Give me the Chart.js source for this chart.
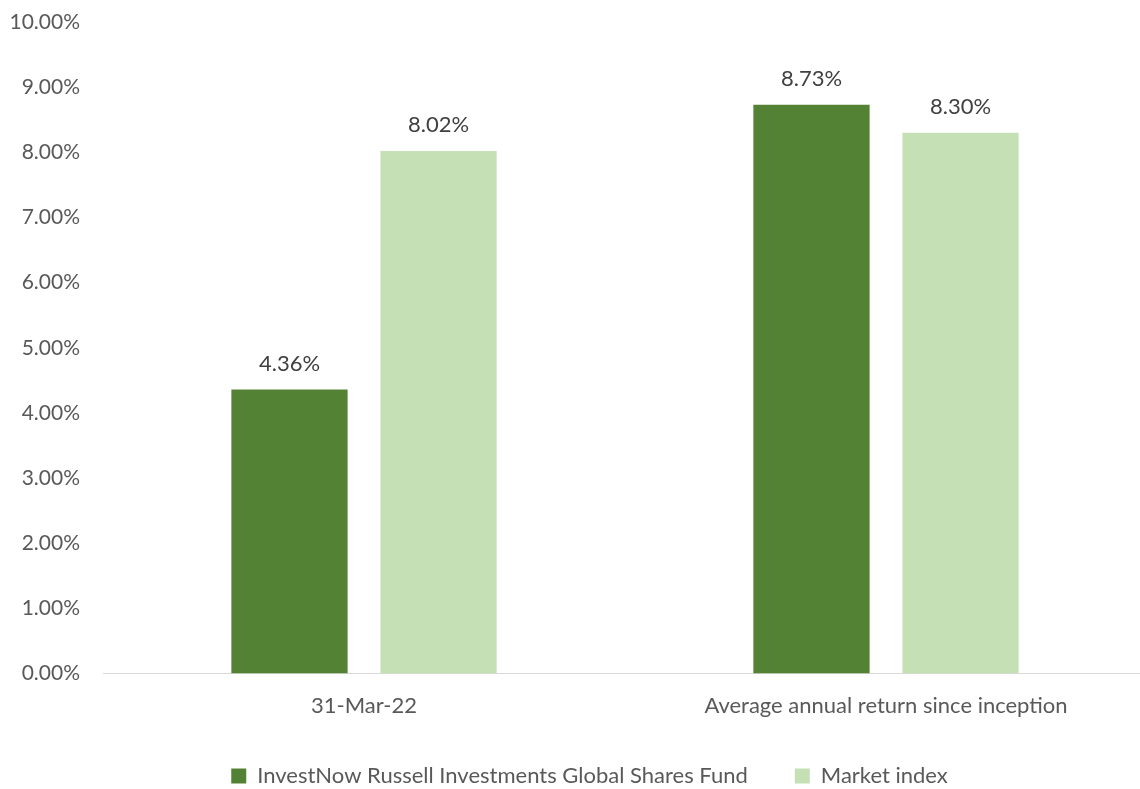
<!DOCTYPE html>
<html>
<head>
<meta charset="utf-8">
<script src="https://cdn.jsdelivr.net/npm/chart.js@4/dist/chart.umd.min.js"></script>
<style>
  html, body { margin: 0; padding: 0; background: #fff; overflow: hidden; }
  #wrap { width: 1147px; height: 789px; position: relative; }
</style>
</head>
<body>
<div id="wrap"><canvas id="myChart"></canvas></div>
<script>
// data
var categories = ['31-Mar-22', 'Average annual return since inception'];
var fundValues = [4.36, 8.73];
var indexValues = [8.02, 8.30];
var seriesNames = ['InvestNow Russell Investments Global Shares Fund', 'Market index'];
var yTicks = [0, 1, 2, 3, 4, 5, 6, 7, 8, 9, 10];

var FONT = 'Lato';

// draws the value above each bar (no datalabels plugin offline)
var valueLabels = {
    id: 'valueLabels',
    afterDatasetsDraw: function(chart){
        var ctx = chart.ctx;
        ctx.save();
        ctx.font = '22px ' + FONT;
        ctx.fillStyle = '#404040';
        ctx.textAlign = 'center';
        ctx.textBaseline = 'middle';
        chart.data.datasets.forEach(function(ds, i){
            chart.getDatasetMeta(i).data.forEach(function(bar, j){
                ctx.fillText(ds.data[j].toFixed(2) + '%', bar.x, bar.y - 26);
            });
        });
        ctx.restore();
    }
};

// legend: wide gap between items but a shorter box, drawn a bit shifted
var legendFix = {
    id: 'legendFix',
    beforeLayout: function(chart){
        var lg = chart.legend;
        if (!lg || lg._fixed) return;
        var fit = lg.fit;
        var draw = lg.draw;
        lg.fit = function(){ fit.call(this); this.height = 51; };
        lg.draw = function(){
            var top = this.top;
            this.top = top - 20;
            this.ctx.save();
            this.ctx.translate(16, 0);
            draw.call(this);
            this.ctx.restore();
            this.top = top;
        };
        lg._fixed = true;
    }
};

var ctx = document.getElementById('myChart').getContext('2d');
var myChart = new Chart(ctx, {
    type: 'bar',
    data: {
        labels: categories,
        datasets: [{
            label: seriesNames[0],
            data: fundValues,
            backgroundColor: '#548235',
            categoryPercentage: 0.571,
            barPercentage: 0.78
        }, {
            label: seriesNames[1],
            data: indexValues,
            backgroundColor: '#C5E0B4',
            categoryPercentage: 0.571,
            barPercentage: 0.78
        }]
    },
    options: {
        responsive: true,
        maintainAspectRatio: false,
        animation: false,
        layout: { padding: { top: 22, left: 0, right: 0, bottom: 0 } },
        plugins: {
            tooltip: { enabled: false },
            legend: {
                position: 'bottom',
                labels: {
                    boxWidth: 15,
                    boxHeight: 15,
                    padding: 47,
                    color: '#595959',
                    font: { family: FONT, size: 22 }
                }
            }
        },
        scales: {
            x: {
                grid: { display: false, drawTicks: false },
                border: { display: true, color: '#d9d9d9', width: 1 },
                ticks: { color: '#595959', padding: 19, font: { family: FONT, size: 22 } }
            },
            y: {
                min: 0,
                max: 10,
                afterFit: function(scale){
                    scale.width = 103;
                    scale.paddingTop = 0;
                    scale.paddingBottom = 0;
                },
                afterBuildTicks: function(scale){
                    scale.ticks = yTicks.map(function(v){ return { value: v }; });
                },
                grid: { display: false, drawTicks: false },
                border: { display: false },
                ticks: {
                    color: '#595959',
                    padding: 23,
                    font: { family: FONT, size: 21 },
                    callback: function(v){ return Number(v).toFixed(2) + '%'; }
                }
            }
        }
    },
    plugins: [valueLabels, legendFix]
});
</script>
</body>
</html>
